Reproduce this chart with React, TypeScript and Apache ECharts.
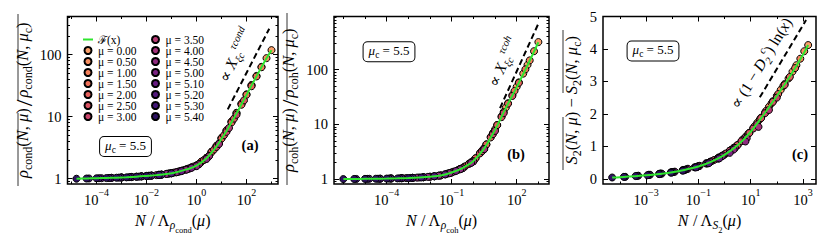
import { useEffect, useRef } from 'react';
import * as echarts from 'echarts';

// ---------------- data ----------------
const MU = ['0.00', '0.50', '1.00', '1.50', '2.00', '2.50', '3.00', '3.50', '4.00', '4.50', '5.00', '5.10', '5.20', '5.30', '5.40'];

// Panel (a): log10(N / Λ_ρcond(μ)) and log10(ρcond(N,μ)/ρcond(N,μc))
const aLogX: number[][] = [
  [0.2, 0.6, 1.0, 1.4, 1.8, 2.2, 2.6, 3.0],
  [0.0, 0.4, 0.8, 1.2, 1.6, 2.0, 2.4, 2.8],
  [-0.2, 0.2, 0.6, 1.0, 1.4, 1.8, 2.2, 2.6],
  [-0.4, 0.0, 0.4, 0.8, 1.2, 1.6, 2.0, 2.4],
  [-0.6, -0.2, 0.2, 0.6, 1.0, 1.4, 1.8, 2.2],
  [-0.9, -0.5, -0.1, 0.3, 0.7, 1.1, 1.5, 1.9],
  [-1.2, -0.8, -0.4, 0.0, 0.4, 0.8, 1.2, 1.6],
  [-1.5, -1.1, -0.7, -0.3, 0.1, 0.5, 0.9, 1.3],
  [-1.9, -1.5, -1.1, -0.7, -0.3, 0.1, 0.5, 0.9],
  [-2.4, -2.0, -1.6, -1.2, -0.8, -0.4, 0.0, 0.4],
  [-3.0, -2.6, -2.2, -1.8, -1.4, -1.0, -0.6, -0.2],
  [-3.4, -3.0, -2.6, -2.2, -1.8, -1.4, -1.0, -0.6],
  [-3.8, -3.4, -3.0, -2.6, -2.2, -1.8, -1.4, -1.0],
  [-4.3, -3.9, -3.5, -3.1, -2.7, -2.3, -1.9, -1.5],
  [-4.8, -4.4, -4.0, -3.6, -3.2, -2.8, -2.4, -2.0],
];
const aLogRatio: number[][] = [
  [0.276, 0.434, 0.657, 0.923, 1.212, 1.510, 1.802, 2.072],
  [0.214, 0.337, 0.530, 0.781, 1.062, 1.360, 1.656, 1.943],
  [0.183, 0.275, 0.432, 0.653, 0.918, 1.207, 1.505, 1.797],
  [0.152, 0.213, 0.335, 0.527, 0.776, 1.055, 1.352, 1.648],
  [0.129, 0.183, 0.274, 0.428, 0.645, 0.905, 1.192, 1.490],
  [0.099, 0.141, 0.198, 0.302, 0.470, 0.700, 0.968, 1.262],
  [0.077, 0.106, 0.152, 0.212, 0.328, 0.512, 0.755, 1.030],
  [0.064, 0.084, 0.117, 0.166, 0.238, 0.370, 0.568, 0.818],
  [0.049, 0.064, 0.084, 0.115, 0.162, 0.232, 0.362, 0.560],
  [0.034, 0.046, 0.059, 0.077, 0.104, 0.146, 0.203, 0.318],
  [0.021, 0.029, 0.040, 0.052, 0.068, 0.091, 0.126, 0.175],
  [0.014, 0.020, 0.027, 0.038, 0.050, 0.066, 0.088, 0.123],
  [0.009, 0.014, 0.019, 0.027, 0.037, 0.049, 0.064, 0.087],
  [0.004, 0.008, 0.012, 0.018, 0.025, 0.034, 0.046, 0.060],
  [0.000, 0.003, 0.007, 0.011, 0.016, 0.022, 0.031, 0.042],
];
const aFitLogX = [-4.8, -4.4, -4.0, -3.6, -3.2, -2.8, -2.4, -2.0, -1.6, -1.2, -0.8, -0.4, 0.0, 0.4, 0.8, 1.2, 1.6, 2.0, 2.4, 2.8, 3.0];
const aFitLogRatio = [0.000, 0.004, 0.008, 0.012, 0.017, 0.024, 0.033, 0.045, 0.058, 0.076, 0.105, 0.150, 0.210, 0.330, 0.520, 0.770, 1.050, 1.350, 1.650, 1.940, 2.070];
const aGuideLogX = [1.25, 2.91];
const aGuideLogRatio = [1.118, 2.417];

// Panel (b): log10(N / Λ_ρcoh(μ)) and log10(ρcoh(N,μ)/ρcoh(N,μc))
const bLogX: number[][] = [
  [0.0, 0.5, 1.0, 1.5, 2.0, 2.5, 3.0],
  [-0.2, 0.3, 0.8, 1.3, 1.8, 2.3, 2.8],
  [-0.4, 0.1, 0.6, 1.1, 1.6, 2.1, 2.6],
  [-0.6, -0.1, 0.4, 0.9, 1.4, 1.9, 2.4],
  [-0.9, -0.4, 0.1, 0.6, 1.1, 1.6, 2.1],
  [-1.2, -0.7, -0.2, 0.3, 0.8, 1.3, 1.8],
  [-1.6, -1.1, -0.6, -0.1, 0.4, 0.9, 1.4],
  [-2.0, -1.5, -1.0, -0.5, 0.0, 0.5, 1.0],
  [-2.5, -2.0, -1.5, -1.0, -0.5, 0.0, 0.5],
  [-3.1, -2.6, -2.1, -1.6, -1.1, -0.6, -0.1],
  [-3.8, -3.3, -2.8, -2.3, -1.8, -1.3, -0.8],
  [-4.3, -3.8, -3.3, -2.8, -2.3, -1.8, -1.3],
  [-4.8, -4.3, -3.8, -3.3, -2.8, -2.3, -1.8],
  [-5.4, -4.9, -4.4, -3.9, -3.4, -2.9, -2.4],
  [-6.0, -5.5, -5.0, -4.5, -4.0, -3.5, -3.0],
];
const bLogRatio: number[][] = [
  [0.334, 0.566, 0.908, 1.308, 1.688, 2.086, 2.503],
  [0.281, 0.473, 0.771, 1.148, 1.535, 1.926, 2.336],
  [0.228, 0.380, 0.634, 0.988, 1.384, 1.766, 2.168],
  [0.186, 0.307, 0.519, 0.840, 1.228, 1.610, 2.004],
  [0.137, 0.228, 0.380, 0.632, 0.985, 1.378, 1.758],
  [0.099, 0.169, 0.280, 0.468, 0.760, 1.132, 1.518],
  [0.062, 0.110, 0.185, 0.303, 0.508, 0.820, 1.205],
  [0.043, 0.067, 0.121, 0.199, 0.326, 0.550, 0.880],
  [0.029, 0.043, 0.067, 0.119, 0.197, 0.322, 0.545],
  [0.018, 0.027, 0.040, 0.062, 0.108, 0.180, 0.296],
  [0.011, 0.016, 0.023, 0.034, 0.052, 0.087, 0.148],
  [0.007, 0.011, 0.015, 0.022, 0.033, 0.050, 0.085],
  [0.005, 0.007, 0.011, 0.016, 0.023, 0.034, 0.051],
  [0.002, 0.004, 0.006, 0.009, 0.014, 0.020, 0.029],
  [0.000, 0.002, 0.004, 0.006, 0.009, 0.012, 0.018],
];
const bFitLogX = [-6.0, -5.5, -5.0, -4.5, -4.0, -3.5, -3.0, -2.5, -2.0, -1.5, -1.0, -0.5, 0.0, 0.5, 1.0, 1.5, 2.0, 2.5, 3.0];
const bFitLogRatio = [0.000, 0.002, 0.004, 0.006, 0.009, 0.013, 0.019, 0.028, 0.042, 0.066, 0.120, 0.200, 0.330, 0.560, 0.900, 1.300, 1.680, 2.080, 2.500];
const bGuideLogX = [1.23, 3.02];
const bGuideLogRatio = [1.297, 2.857];

// Panel (c): log10(N / Λ_S2(μ)) and S2(N,μ) − S2(N,μc)
const cLogX: number[][] = [
  [0.5, 0.95, 1.4, 1.85, 2.3, 2.75, 3.2],
  [0.35, 0.8, 1.25, 1.7, 2.15, 2.6, 3.05],
  [0.2, 0.65, 1.1, 1.55, 2.0, 2.45, 2.9],
  [0.0, 0.45, 0.9, 1.35, 1.8, 2.25, 2.7],
  [-0.2, 0.25, 0.7, 1.15, 1.6, 2.05, 2.5],
  [-0.4, 0.05, 0.5, 0.95, 1.4, 1.85, 2.3],
  [-0.7, -0.25, 0.2, 0.65, 1.1, 1.55, 2.0],
  [-1.0, -0.55, -0.1, 0.35, 0.8, 1.25, 1.7],
  [-1.4, -0.95, -0.5, -0.05, 0.4, 0.85, 1.3],
  [-1.9, -1.45, -1.0, -0.55, -0.1, 0.35, 0.8],
  [-2.5, -2.05, -1.6, -1.15, -0.7, -0.25, 0.2],
  [-2.9, -2.45, -2.0, -1.55, -1.1, -0.65, -0.2],
  [-3.3, -2.85, -2.4, -1.95, -1.5, -1.05, -0.6],
  [-3.8, -3.35, -2.9, -2.45, -2.0, -1.55, -1.1],
  [-4.3, -3.85, -3.4, -2.95, -2.5, -2.05, -1.6],
];
const cDiff: number[][] = [
  [1.04, 1.42, 1.885, 2.39, 2.92, 3.50, 4.12],
  [0.95, 1.29, 1.725, 2.22, 2.74, 3.30, 3.93],
  [0.865, 1.165, 1.565, 2.045, 2.555, 3.09, 3.70],
  [0.75, 1.01, 1.38, 1.83, 2.33, 2.86, 3.41],
  [0.665, 0.895, 1.21, 1.62, 2.10, 2.61, 3.14],
  [0.58, 0.78, 1.04, 1.41, 1.87, 2.37, 2.89],
  [0.48, 0.645, 0.865, 1.16, 1.55, 2.02, 2.50],
  [0.39, 0.525, 0.71, 0.95, 1.27, 1.68, 2.12],
  [0.31, 0.40, 0.54, 0.72, 0.95, 1.25, 1.60],
  [0.22, 0.295, 0.385, 0.52, 0.69, 0.90, 1.15],
  [0.155, 0.20, 0.27, 0.355, 0.47, 0.62, 0.80],
  [0.12, 0.16, 0.205, 0.275, 0.36, 0.475, 0.63],
  [0.095, 0.125, 0.16, 0.21, 0.28, 0.36, 0.48],
  [0.06, 0.09, 0.12, 0.155, 0.20, 0.265, 0.35],
  [0.04, 0.06, 0.085, 0.11, 0.145, 0.19, 0.25],
];
const cFitLogX = [-4.3, -4.0, -3.5, -3.0, -2.5, -2.0, -1.5, -1.0, -0.5, 0.0, 0.5, 1.0, 1.5, 2.0, 2.5, 3.0, 3.2];
const cFitDiff = [0.04, 0.05, 0.08, 0.11, 0.15, 0.20, 0.28, 0.38, 0.53, 0.74, 1.03, 1.45, 1.98, 2.55, 3.15, 3.82, 4.12];
const cGuideLogX = [1.35, 3.12];
const cGuideDiff = [2.51, 4.89];

// tick labels
const aXTicks = [-4, -2, 0, 2];
const bXTicks = [-4, -1, 2];
const cXTicks = [-3, -1, 1, 3];
const logYTicks = [0, 1, 2];
const cYTicks = [0, 1, 2, 3, 4, 5];

// ---------------- styles ----------------
const FONT = "'Liberation Serif', 'DejaVu Serif', serif";
const COLORS = ['#f9a06b', '#f79062', '#f4815c', '#ee7059', '#e5615d', '#d85363', '#c8456b', '#b63b74', '#a2327b', '#8e2b7f', '#7a2382', '#671c81', '#53197c', '#411576', '#2d1160'];
const GREEN = '#2fe52f';

function logMinors(lo: number, hi: number) {
  const out: number[] = [];
  for (let k = -1; k <= 3; k++) {
    for (let m = 2; m <= 9; m++) {
      const v = k + Math.log10(m);
      if (v > lo && v < hi) out.push(v);
    }
  }
  return out;
}

const supRich = {
  b: { fontSize: 14.5, lineHeight: 20, verticalAlign: 'bottom', fontFamily: FONT, color: '#000' },
  e: { fontSize: 10, lineHeight: 10, verticalAlign: 'top', fontFamily: FONT, color: '#000' },
};
const xNameRich = {
  i: { fontSize: 16, fontStyle: 'italic', lineHeight: 22, verticalAlign: 'top', fontFamily: FONT, color: '#000' },
  r: { fontSize: 16, lineHeight: 22, verticalAlign: 'top', fontFamily: FONT, color: '#000' },
  s: { fontSize: 11.5, fontStyle: 'italic', lineHeight: 11.5, verticalAlign: 'bottom', fontFamily: FONT, color: '#000', padding: [0, 0, 3, 0] },
  ss: { fontSize: 8.5, lineHeight: 8.5, verticalAlign: 'bottom', fontFamily: FONT, color: '#000' },
};
const yNameRich = {
  i: { fontSize: 16.5, fontStyle: 'italic', lineHeight: 20, verticalAlign: 'top', fontFamily: FONT, color: '#000' },
  r: { fontSize: 16.5, lineHeight: 20, verticalAlign: 'top', fontFamily: FONT, color: '#000' },
  s: { fontSize: 12, lineHeight: 12, verticalAlign: 'bottom', fontFamily: FONT, color: '#000' },
  big: { fontSize: 24, lineHeight: 20, verticalAlign: 'middle', fontFamily: FONT, color: '#000', padding: [0, 2, 0, 2] },
};

const panels = [
  {
    logX: aLogX, yv: aLogRatio, fitX: aFitLogX, fitY: aFitLogRatio, gx: aGuideLogX, gy: aGuideLogRatio,
    grid: { left: 67.5, top: 16.5, width: 210.5, height: 167.5 },
    xMin: -5.16, xMax: 3.26, yMin: -0.085, yMax: 2.614,
    xMajor: aXTicks, xMinor: [-5, -3, -1, 1, 3], yMajor: logYTicks, yMinor: logMinors(-0.085, 2.614), yLog: true,
    xName: '{i|N}{r| / Λ}{s|ρ}{ss|cond}{r|(}{i|μ}{r|)}',
    yName: '{i|ρ}{s|cond}{r|(}{i|N}{r|, }{i|μ}{r|)}{big|/}{i|ρ}{s|cond}{r|(}{i|N}{r|, }{i|μ}{s|c}{r|)}',
    yGap: 28.5,
  },
  {
    logX: bLogX, yv: bLogRatio, fitX: bFitLogX, fitY: bFitLogRatio, gx: bGuideLogX, gy: bGuideLogRatio,
    grid: { left: 334, top: 16.5, width: 215, height: 167.5 },
    xMin: -6.43, xMax: 3.49, yMin: -0.09, yMax: 2.97,
    xMajor: bXTicks, xMinor: [-6, -5, -3, -2, 0, 1, 3], yMajor: logYTicks, yMinor: logMinors(-0.09, 2.97), yLog: true,
    xName: '{i|N}{r| / Λ}{s|ρ}{ss|coh}{r|(}{i|μ}{r|)}',
    yName: '{i|ρ}{s|coh}{r|(}{i|N}{r|, }{i|μ}{r|)}{big|/}{i|ρ}{s|coh}{r|(}{i|N}{r|, }{i|μ}{s|c}{r|)}',
    yGap: 24.5,
  },
  {
    logX: cLogX, yv: cDiff, fitX: cFitLogX, fitY: cFitDiff, gx: cGuideLogX, gy: cGuideDiff,
    grid: { left: 603, top: 16.5, width: 213, height: 167.5 },
    xMin: -4.65, xMax: 3.5, yMin: -0.16, yMax: 5.0,
    xMajor: cXTicks, xMinor: [-4, -2, 0, 2], yMajor: cYTicks, yMinor: [] as number[], yLog: false,
    xName: '{i|N}{r| / Λ}{s|S}{ss|2}{r|(}{i|μ}{r|)}',
    yName: '{i|S}{s|2}{r|(}{i|N}{r|, }{i|μ}{r|) − }{i|S}{s|2}{r|(}{i|N}{r|, }{i|μ}{s|c}{r|)}',
    yGap: 20.5,
  },
];

function fmtExp(v: number) {
  const n = Math.round(v);
  return n < 0 ? '−' + Math.abs(n) : String(n);
}

function buildOption() {
  const tick = { color: '#000', width: 1 };
  const xAxis: any[] = [];
  const yAxis: any[] = [];
  const grid: any[] = [];
  const series: any[] = [];

  panels.forEach((p, gi) => {
    grid.push({ ...p.grid, show: true, borderColor: '#000', borderWidth: 1.5, backgroundColor: 'transparent', containLabel: false });
    const base = { type: 'value', gridIndex: gi, splitLine: { show: false }, axisLine: { show: false, onZero: false } };
    const xr = { min: p.xMin, max: p.xMax };
    const yr = { min: p.yMin, max: p.yMax };
    xAxis.push({
      ...base, ...xr, position: 'bottom',
      axisTick: { show: true, inside: true, length: 5, lineStyle: tick, customValues: p.xMajor },
      axisLabel: { show: true, customValues: p.xMajor, margin: 3.5, formatter: (v: number) => `{b|10}{e|${fmtExp(v)}}`, rich: supRich },
      name: p.xName, nameLocation: 'middle', nameGap: 19.5, nameTextStyle: { rich: xNameRich, fontFamily: FONT },
    });
    xAxis.push({ ...base, ...xr, position: 'top', axisTick: { show: true, inside: true, length: 5, lineStyle: tick, customValues: p.xMajor }, axisLabel: { show: false } });
    xAxis.push({ ...base, ...xr, position: 'bottom', axisTick: { show: true, inside: true, length: 2.5, lineStyle: tick, customValues: p.xMinor }, axisLabel: { show: false } });
    xAxis.push({ ...base, ...xr, position: 'top', axisTick: { show: true, inside: true, length: 2.5, lineStyle: tick, customValues: p.xMinor }, axisLabel: { show: false } });

    yAxis.push({
      ...base, ...yr, position: 'left',
      axisTick: { show: true, inside: true, length: 5, lineStyle: tick, customValues: p.yMajor },
      axisLabel: {
        show: true, customValues: p.yMajor, margin: 6, fontSize: 14.5, fontFamily: FONT, color: '#000',
        formatter: (v: number) => (p.yLog ? String(Math.round(Math.pow(10, v))) : String(Math.round(v))),
      },
      name: p.yName, nameLocation: 'middle', nameRotate: 90, nameGap: p.yGap, nameTextStyle: { rich: yNameRich, fontFamily: FONT },
    });
    yAxis.push({ ...base, ...yr, position: 'right', axisTick: { show: true, inside: true, length: 5, lineStyle: tick, customValues: p.yMajor }, axisLabel: { show: false } });
    yAxis.push({ ...base, ...yr, position: 'left', axisTick: { show: p.yMinor.length > 0, inside: true, length: 2.5, lineStyle: tick, customValues: p.yMinor.length ? p.yMinor : [p.yMin] }, axisLabel: { show: false } });
    yAxis.push({ ...base, ...yr, position: 'right', axisTick: { show: p.yMinor.length > 0, inside: true, length: 2.5, lineStyle: tick, customValues: p.yMinor.length ? p.yMinor : [p.yMin] }, axisLabel: { show: false } });

    MU.forEach((mu, k) => {
      series.push({
        type: 'scatter', name: `μ = ${mu}`, xAxisIndex: gi * 4, yAxisIndex: gi * 4,
        data: p.logX[k].map((x, j) => [x, p.yv[k][j]]),
        symbol: 'circle', symbolSize: 7,
        itemStyle: { color: COLORS[k], borderColor: '#000', borderWidth: 1, opacity: 1 },
        silent: true, z: 2,
      });
    });
    series.push({
      type: 'line', name: 'guide', xAxisIndex: gi * 4, yAxisIndex: gi * 4,
      data: p.gx.map((x, j) => [x, p.gy[j]]),
      symbol: 'none', silent: true, z: 3,
      lineStyle: { color: '#000', width: 2, type: [6, 3.5] },
    });
    series.push({
      type: 'line', name: 'ℱ(x)', xAxisIndex: gi * 4, yAxisIndex: gi * 4,
      data: p.fitX.map((x, j) => [x, p.fitY[j]]),
      symbol: 'none', showSymbol: false, smooth: 0.35, silent: true, z: 4,
      lineStyle: { color: GREEN, width: 2 },
      itemStyle: { color: GREEN },
    });
  });

  const legendCommon = {
    orient: 'vertical', itemWidth: 10, itemHeight: 7, itemGap: -1, padding: 0, selectedMode: false,
    textStyle: { fontSize: 11.5, fontFamily: FONT, color: '#000' },
  };
  const legend = [
    {
      ...legendCommon, left: 83, top: 33.5,
      data: [{ name: 'ℱ(x)', icon: 'path://M0 0 H10 V2 H0 Z', itemStyle: { color: GREEN } }, ...MU.slice(0, 7).map((m) => `μ = ${m}`)],
    },
    { ...legendCommon, left: 151, top: 33.5, data: MU.slice(7).map((m) => `μ = ${m}`) },
  ];

  const boxRich = {
    i: { fontSize: 13, fontStyle: 'italic', lineHeight: 16, verticalAlign: 'top', fontFamily: FONT, fill: '#000' },
    s: { fontSize: 9.5, lineHeight: 9.5, verticalAlign: 'bottom', fontFamily: FONT, fill: '#000' },
    r: { fontSize: 13, lineHeight: 16, verticalAlign: 'top', fontFamily: FONT, fill: '#000' },
  };
  const muBox = (x: number, y: number) => ({
    type: 'text', x, y, z: 10, silent: true,
    style: {
      text: '{i|μ}{s|c}{r| = 5.5}', rich: boxRich, align: 'center', verticalAlign: 'middle',
      backgroundColor: '#fff', borderColor: '#000', borderWidth: 1, borderRadius: 4, padding: [1.5, 5],
    },
  });
  const panelLabel = (x: number, y: number, t: string) => ({
    type: 'text', x, y, z: 10, silent: true,
    style: { text: t, fontSize: 14.5, fontWeight: 'bold', fontFamily: FONT, fill: '#000', align: 'center', verticalAlign: 'middle' },
  });
  const annRich = {
    r: { fontSize: 15.5, lineHeight: 22, verticalAlign: 'middle', fontFamily: FONT, fill: '#000' },
    i: { fontSize: 15.5, fontStyle: 'italic', lineHeight: 22, verticalAlign: 'middle', fontFamily: FONT, fill: '#000' },
    sub: { fontSize: 10.5, fontStyle: 'italic', lineHeight: 10.5, verticalAlign: 'bottom', fontFamily: FONT, fill: '#000' },
    sup: { fontSize: 10.5, fontStyle: 'italic', lineHeight: 10.5, verticalAlign: 'top', fontFamily: FONT, fill: '#000' },
  };
  const annotation = (x: number, y: number, deg: number, t: string) => ({
    type: 'text', x, y, rotation: (deg * Math.PI) / 180, z: 10, silent: true,
    style: { text: t, rich: annRich, align: 'center', verticalAlign: 'middle' },
  });
  const overline = (x: number, y1: number, y2: number) => ({
    type: 'line', z: 10, silent: true, shape: { x1: x, y1, x2: x, y2 }, style: { stroke: '#000', lineWidth: 0.8 },
  });

  const graphic = [
    muBox(125.5, 146.5), muBox(389, 51.7), muBox(653, 51),
    panelLabel(250, 145, '(a)'), panelLabel(516, 154, '(b)'), panelLabel(800, 154, '(c)'),
    annotation(235, 55, 65, '{r|∝ }{i|X}{sub|ξc}{sup|τcond}'),
    annotation(503, 62, 66, '{r|∝ }{i|X}{sub|ξc}{sup|τcoh}'),
    annotation(761, 63, 58.5, '{r|∝ (1 − }{i|D}{sub|2}{sup|c}{r|) ln(}{i|x}{r|)}'),
    overline(18, 113, 186), overline(18, 14, 100),
    overline(287, 117, 185), overline(287, 13, 100),
    overline(563, 117, 170), overline(563, 30, 93),
  ];

  return {
    animation: false,
    backgroundColor: '#fff',
    textStyle: { fontFamily: FONT },
    grid, xAxis, yAxis, series, legend, graphic,
  };
}

export default function App() {
  const ref = useRef<HTMLDivElement>(null);
  useEffect(() => {
    if (!ref.current) return;
    const chart = echarts.init(ref.current, undefined, { renderer: 'svg' });
    chart.setOption(buildOption() as any);
    return () => chart.dispose();
  }, []);
  return <div ref={ref} style={{ position: 'fixed', left: 0, top: 0, width: 830, height: 240 }} />;
}
